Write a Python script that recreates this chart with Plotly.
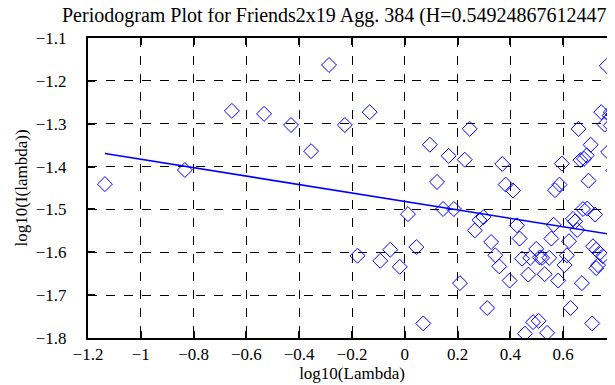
import plotly.graph_objects as go

# log10(Lambda) values
log_lambda = [
    -1.136, -0.833, -0.655, -0.533, -0.431, -0.355, -0.287, -0.227, -0.179, -0.133,
    -0.093, -0.055, -0.019, 0.012, 0.044, 0.070, 0.095, 0.122, 0.145, 0.166,
    0.186, 0.209, 0.227, 0.246, 0.265, 0.283, 0.298, 0.312, 0.327, 0.343,
    0.358, 0.369, 0.382, 0.397, 0.410, 0.425, 0.435, 0.444, 0.455, 0.468,
    0.475, 0.486, 0.498, 0.507, 0.511, 0.520, 0.530, 0.539, 0.547, 0.555,
    0.564, 0.569, 0.581, 0.586, 0.595, 0.605, 0.614, 0.622, 0.628, 0.637,
    0.645, 0.653, 0.658, 0.665, 0.671, 0.675, 0.679, 0.689, 0.691, 0.696,
    0.704, 0.710, 0.713, 0.721, 0.725, 0.725, 0.732, 0.738, 0.744, 0.750,
    0.757, 0.765, 0.770, 0.776, 0.780, 0.780, 0.791, 0.790, 0.795,
]
# log10(I(lambda)) values
log_i = [
    -1.441, -1.408, -1.270, -1.277, -1.303, -1.364, -1.163, -1.303, -1.608, -1.273,
    -1.620, -1.594, -1.634, -1.511, -1.588, -1.766, -1.349, -1.436, -1.499, -1.375,
    -1.499, -1.672, -1.384, -1.312, -1.549, -1.525, -1.518, -1.730, -1.576, -1.607,
    -1.633, -1.394, -1.442, -1.666, -1.456, -1.537, -1.568, -1.615, -1.790, -1.652,
    -1.613, -1.763, -1.592, -1.760, -1.612, -1.613, -1.651, -1.788, -1.613, -1.568,
    -1.536, -1.455, -1.666, -1.442, -1.393, -1.630, -1.607, -1.574, -1.730, -1.522,
    -1.528, -1.548, -1.312, -1.385, -1.672, -1.499, -1.382, -1.374, -1.498, -1.433,
    -1.349, -1.766, -1.586, -1.512, -1.594, -1.637, -1.630, -1.602, -1.273, -1.609,
    -1.302, -1.165, -1.366, -1.281, -1.273, -1.304, -1.277, -1.409, -1.438,
]

# least-squares fit line (slope = 1 - 2H)
hurst = 0.549248676124478
fit_slope = 1 - 2 * hurst
fit_intercept = -1.4814
fit_x = [min(log_lambda), 0.8]
fit_y = [fit_intercept + fit_slope * v for v in fit_x]

title_text = "Periodogram Plot for Friends2x19 Agg. 384 (H=0.549248676124478)"
x_ticks = [-1.2, -1, -0.8, -0.6, -0.4, -0.2, 0, 0.2, 0.4, 0.6, 0.8]
y_ticks = [-1.8, -1.7, -1.6, -1.5, -1.4, -1.3, -1.2, -1.1]

BLUE = "#0000ff"
FONT = "Liberation Serif, serif"
FS = 17
Y_RANGE = [-1.8, -1.1]

fig = go.Figure()
fig.add_trace(go.Scatter(
    x=log_lambda, y=log_i, mode="markers",
    marker=dict(symbol="diamond-open", size=11.5, color=BLUE, line=dict(width=1, color=BLUE)),
    showlegend=False, cliponaxis=True,
))
fig.add_trace(go.Scatter(
    x=fit_x, y=fit_y, mode="lines",
    line=dict(color=BLUE, width=1.6),
    showlegend=False,
))

fig.update_layout(
    width=615, height=385,
    margin=dict(l=80, r=7, t=30, b=55),
    paper_bgcolor="white", plot_bgcolor="white",
    font=dict(family=FONT, size=FS, color="black"),
    title=dict(text=title_text, x=54 / 615, xanchor="left", xref="container",
               y=1, yanchor="top", yref="container", pad=dict(t=0, b=0, l=0, r=0),
               font=dict(family=FONT, size=20, color="black")),
    xaxis=dict(range=[-1.2, 0.8], tickvals=x_ticks, automargin=False,
               ticktext=[("−" if v < 0 else "") + f"{abs(v):g}" for v in x_ticks],
               showgrid=True, gridcolor="black", griddash="dash", gridwidth=1,
               zeroline=False, showline=True, linecolor="black", linewidth=2,
               mirror="ticks", ticks="inside", ticklen=7, tickwidth=2, tickcolor="black",
               tickfont=dict(family=FONT, size=FS, color="black"),
               title=dict(text="log10(Lambda)", standoff=4,
                          font=dict(family=FONT, size=FS))),
    # labelled y axis: transparent outside ticks push labels away from the frame
    yaxis=dict(range=Y_RANGE, tickvals=y_ticks, automargin=False,
               ticktext=["−" + f"{abs(v):.1f}" for v in y_ticks],
               showgrid=True, gridcolor="black", griddash="dash", gridwidth=1,
               zeroline=False, showline=True, linecolor="black", linewidth=2,
               mirror=True, ticks="outside", ticklen=16, tickwidth=1,
               tickcolor="rgba(0,0,0,0)",
               tickfont=dict(family=FONT, size=FS, color="black"),
               title=dict(text="log10(I(lambda))", standoff=4,
                          font=dict(family=FONT, size=FS))),
    # overlay y axis carrying the inward tick marks on both sides
    yaxis2=dict(range=Y_RANGE, tickvals=y_ticks, overlaying="y", side="left",
                automargin=False, showgrid=False, zeroline=False, showline=False,
                mirror="ticks", ticks="inside", ticklen=7, tickwidth=2, tickcolor="black",
                showticklabels=False),
)
# invisible helper trace to activate the overlay axis
fig.add_trace(go.Scatter(x=[None], y=[None], yaxis="y2", showlegend=False, hoverinfo="skip"))

fig.write_html("out.html")
